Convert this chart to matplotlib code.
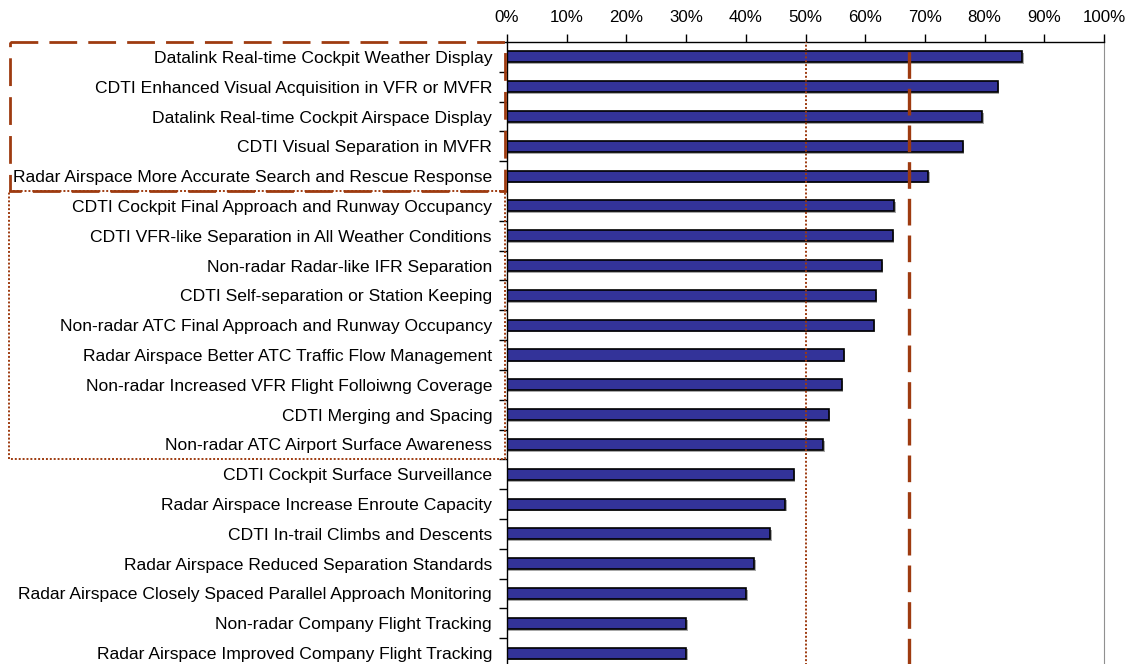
import matplotlib
matplotlib.use("Agg")
import matplotlib.pyplot as plt
from matplotlib.patches import Rectangle
from matplotlib.ticker import FixedLocator, PercentFormatter
import matplotlib.transforms as mtransforms

categories = [
    "Datalink Real-time Cockpit Weather Display",
    "CDTI Enhanced Visual Acquisition in VFR or MVFR",
    "Datalink Real-time Cockpit Airspace Display",
    "CDTI Visual Separation in MVFR",
    "Radar Airspace More Accurate Search and Rescue Response",
    "CDTI Cockpit Final Approach and Runway Occupancy",
    "CDTI VFR-like Separation in All Weather Conditions",
    "Non-radar Radar-like IFR Separation",
    "CDTI Self-separation or Station Keeping",
    "Non-radar ATC Final Approach and Runway Occupancy",
    "Radar Airspace Better ATC Traffic Flow Management",
    "Non-radar Increased VFR Flight Folloiwng Coverage",
    "CDTI Merging and Spacing",
    "Non-radar ATC Airport Surface Awareness",
    "CDTI Cockpit Surface Surveillance",
    "Radar Airspace Increase Enroute Capacity",
    "CDTI In-trail Climbs and Descents",
    "Radar Airspace Reduced Separation Standards",
    "Radar Airspace Closely Spaced Parallel Approach Monitoring",
    "Non-radar Company Flight Tracking",
    "Radar Airspace Improved Company Flight Tracking",
]
values = [86.3, 82.2, 79.6, 76.3, 70.6, 64.9, 64.6, 62.8, 61.8, 61.4,
          56.4, 56.1, 53.9, 53.0, 48.0, 46.6, 44.1, 41.4, 40.1, 30.0, 30.0]
x_ticks = [0, 10, 20, 30, 40, 50, 60, 70, 80, 90, 100]
threshold_dotted = 50.0
threshold_dashed = 67.3
top_group_n = 5
mid_group_n = 14

plt.rcParams['font.family'] = ['Liberation Sans', 'DejaVu Sans']

W, H = 1129, 664
fig = plt.figure(figsize=(W / 100, H / 100), dpi=100)
left_px, right_px, top_px, bot_px = 507, 1104, 42, 668
ax = fig.add_axes([left_px / W, (H - bot_px) / H,
                   (right_px - left_px) / W, (bot_px - top_px) / H])

n = len(categories)
ypos = list(range(n))
bar_h = 0.37
brown = '#9E3B10'

# shadow
ax.barh([y + 0.06 for y in ypos], [v + 0.25 for v in values], height=bar_h,
        color='#a8a8a8', edgecolor='none', zorder=1)
ax.barh(ypos, values, height=bar_h, color='#333399', edgecolor='black',
        linewidth=1.2, zorder=2)

ax.set_xlim(0, 100)
ax.set_ylim(n - 0.5, -0.5)

ax.axvline(threshold_dotted, color=brown, linestyle=(0, (1, 1)), linewidth=1.4, zorder=3)
ax.axvline(threshold_dashed, color=brown, linestyle=(0, (8, 3)), linewidth=2.4, zorder=3)

ax.xaxis.tick_top()
ax.set_xticks(x_ticks)
ax.xaxis.set_major_formatter(PercentFormatter(decimals=0))
ax.tick_params(axis='x', which='major', direction='out', length=6, width=1,
               pad=6, labelsize=12.2, colors='black')

ax.set_yticks(ypos)
ax.set_yticklabels(categories)
ax.yaxis.set_minor_locator(FixedLocator([i - 0.5 for i in range(n + 1)]))
ax.tick_params(axis='y', which='major', length=0, pad=10.8, labelsize=12.6)
ax.tick_params(axis='y', which='minor', direction='out', length=6, width=1, color='black')

for s in ['top', 'left']:
    ax.spines[s].set_color('black')
    ax.spines[s].set_linewidth(1.0)
ax.spines['right'].set_color('#909090')
ax.spines['bottom'].set_visible(False)

# group boxes
trans = mtransforms.blended_transform_factory(fig.transFigure, ax.transData)
x0 = 9.5 / W
x1 = 505 / W
box1 = Rectangle((x0, -0.5), x1 - x0, top_group_n, transform=trans,
                 fill=False, edgecolor=brown, linewidth=2.0,
                 linestyle=(0, (10, 4)), clip_on=False, zorder=4)
fig.add_artist(box1)
x0b = 8.5 / W
box2 = Rectangle((x0b, top_group_n - 0.5), x1 - x0b, mid_group_n - top_group_n,
                 transform=trans, fill=False, edgecolor=brown, linewidth=1.4,
                 linestyle=(0, (1, 1)), clip_on=False, zorder=4)
fig.add_artist(box2)

fig.savefig('out.png', dpi=100)
